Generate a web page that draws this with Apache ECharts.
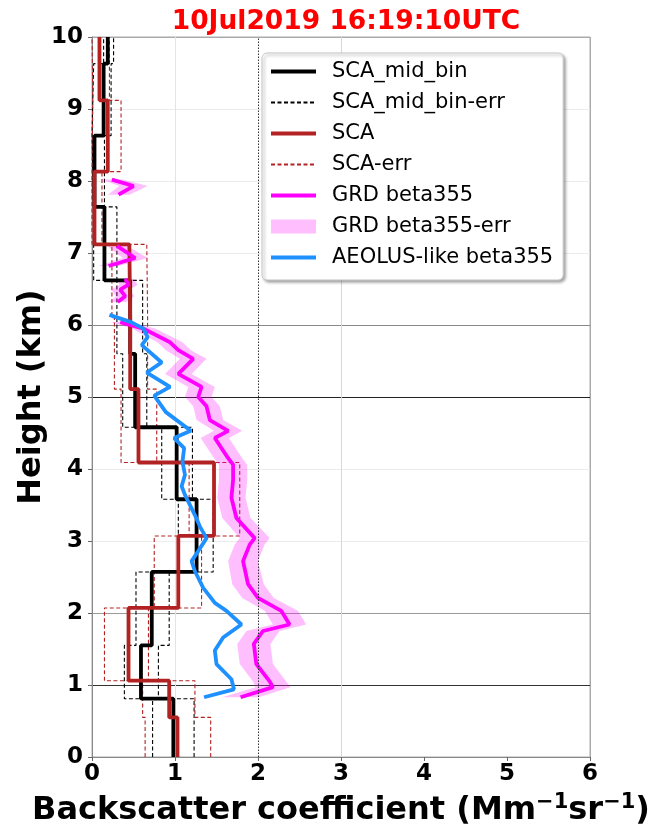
<!DOCTYPE html>
<html>
<head>
<meta charset="utf-8">
<script src="https://cdn.jsdelivr.net/npm/echarts@6/dist/echarts.min.js"></script>
<style>
html,body{margin:0;padding:0;background:#fff;}
#chart{width:659px;height:832px;}
</style>
</head>
<body>
<div id="chart"></div>
<script>
// ---------------- data ----------------
const titleText = '10Jul2019 16:19:10UTC';
const xTicks = [0, 1, 2, 3, 4, 5, 6];
const yTicks = [0, 1, 2, 3, 4, 5, 6, 7, 8, 9, 10];

// SCA_mid_bin (black step profile)
const midBinEdges = [0, 0.81, 1.55, 2.57, 3.58, 4.58, 5.6, 6.62, 7.64, 8.63, 9.63, 10];
const midBinBeta  = [0.98, 0.59, 0.72, 1.26, 1.02, 0.52, 0.46, 0.15, 0.03, 0.14, 0.19];
const midBinLow   = [0.73, 0.39, 0.53, 1.04, 0.84, 0.37, 0.30, 0.02, 0.00, 0.02, 0.14];
const midBinHigh  = [1.23, 0.80, 0.93, 1.46, 1.21, 0.66, 0.61, 0.30, 0.15, 0.23, 0.26];

// SCA (red step profile)
const scaEdges = [0, 0.55, 1.06, 2.07, 3.07, 4.09, 5.11, 6.1, 7.12, 8.13, 9.12, 10];
const scaBeta  = [1.03, 0.93, 0.44, 1.04, 1.47, 0.56, 0.46, 0.45, 0.03, 0.19, 0.09];
const scaLow   = [0.64, 0.61, 0.15, 0.75, 1.17, 0.35, 0.27, 0.24, 0.00, 0.01, 0.00];
const scaHigh  = [1.43, 1.24, 0.68, 1.32, 1.78, 0.78, 0.67, 0.66, 0.12, 0.35, 0.21];

// GRD beta355 (magenta) – several separate segments
const grd1Height = [0.83, 0.97, 1.05, 1.29, 1.57, 1.75, 1.84, 2.03, 2.21, 2.40, 2.72, 2.95, 3.04, 3.32, 3.60, 3.85, 4.06, 4.15, 4.43, 4.53, 4.68, 4.87, 5.00, 5.14, 5.32, 5.53, 5.65, 5.76, 5.95, 6.04];
const grd1Beta   = [1.79, 2.18, 2.14, 1.98, 1.95, 2.06, 2.38, 2.28, 2.00, 1.88, 1.82, 1.90, 1.96, 1.74, 1.68, 1.70, 1.70, 1.64, 1.48, 1.64, 1.42, 1.38, 1.28, 1.32, 1.04, 1.22, 1.04, 0.94, 0.62, 0.34];
const grd1Err    = [0.22, 0.21, 0.20, 0.20, 0.20, 0.20, 0.20, 0.20, 0.19, 0.19, 0.18, 0.18, 0.18, 0.17, 0.17, 0.17, 0.17, 0.17, 0.17, 0.17, 0.16, 0.16, 0.16, 0.16, 0.16, 0.16, 0.15, 0.15, 0.14, 0.12];
const grd2Height = [6.32, 6.40, 6.49, 6.56, 6.64];
const grd2Beta   = [0.31, 0.40, 0.34, 0.44, 0.40];
const grd2Err    = [0.10, 0.11, 0.11, 0.11, 0.10];
const grd3Height = [6.82, 6.93, 7.10];
const grd3Beta   = [0.20, 0.52, 0.30];
const grd3Err    = [0.12, 0.15, 0.12];
const grd4Height = [7.81, 7.93, 8.02];
const grd4Beta   = [0.32, 0.50, 0.24];
const grd4Err    = [0.13, 0.17, 0.13];

// AEOLUS-like beta355 (blue)
const aeoHeight = [0.83, 0.94, 1.08, 1.29, 1.48, 1.66, 1.84, 2.03, 2.14, 2.35, 2.58, 2.72, 2.86, 3.04, 3.20, 3.36, 3.64, 3.76, 3.92, 4.10, 4.29, 4.43, 4.53, 4.79, 5.02, 5.14, 5.34, 5.48, 5.72, 5.83, 5.95, 6.04, 6.14];
const aeoBeta   = [1.35, 1.71, 1.68, 1.50, 1.48, 1.58, 1.80, 1.62, 1.48, 1.34, 1.24, 1.20, 1.28, 1.38, 1.30, 1.24, 1.12, 1.08, 1.12, 1.09, 1.11, 0.99, 1.19, 0.89, 0.75, 0.94, 0.66, 0.84, 0.60, 0.67, 0.62, 0.47, 0.21];

// ---------------- helpers ----------------
function stepPoints(edges, vals) {
  const pts = [];
  for (let i = 0; i < vals.length; i++) {
    pts.push([vals[i], edges[i]]);
    pts.push([vals[i], edges[i + 1]]);
  }
  return pts;
}
function zipXY(xs, ys) { return xs.map((x, i) => [x, ys[i]]); }

const grdSegs = [
  {h: grd1Height, b: grd1Beta, e: grd1Err},
  {h: grd2Height, b: grd2Beta, e: grd2Err},
  {h: grd3Height, b: grd3Beta, e: grd3Err},
  {h: grd4Height, b: grd4Beta, e: grd4Err}
];

const FONT = 'DejaVu Sans';
const dashBlack = {color: '#000', width: 1.1, type: [4, 2.5]};
const dashRed = {color: '#b22222', width: 1.1, type: [4, 2.5]};
const THICK = 3.8;

function lineSeries(name, data, lineStyle, z) {
  return {type: 'line', name, data, symbol: 'none', showSymbol: false, lineStyle,
          itemStyle: {color: lineStyle.color}, z: z || 2, silent: true, animation: false, clip: true};
}

const series = [];
const s0 = lineSeries('SCA_mid_bin-err', stepPoints(midBinEdges, midBinLow), dashBlack, 2);
s0.markLine = {
  silent: true, symbol: 'none', label: {show: false}, animation: false,
  lineStyle: {color: '#333', width: 1, type: [1.5, 1.5]},
  data: [{xAxis: 2}]
};
series.push(s0);
series.push(lineSeries('SCA_mid_bin-err', stepPoints(midBinEdges, midBinHigh), dashBlack, 2));
series.push(lineSeries('SCA-err', stepPoints(scaEdges, scaLow), dashRed, 2));
series.push(lineSeries('SCA-err', stepPoints(scaEdges, scaHigh), dashRed, 2));
series.push(lineSeries('SCA_mid_bin', stepPoints(midBinEdges, midBinBeta), {color: '#000', width: THICK}, 3));
series.push(lineSeries('SCA', stepPoints(scaEdges, scaBeta), {color: '#b22222', width: THICK}, 3));
series.push({
  type: 'custom', name: 'GRD beta355-err', coordinateSystem: 'cartesian2d',
  silent: true, animation: false, z: 3,
  itemStyle: {color: 'rgba(255,0,255,0.25)'},
  data: grdSegs.map((s, i) => [s.b[0], s.h[0], i]),
  encode: {x: 0, y: 1},
  renderItem: function (params, api) {
    const s = grdSegs[params.dataIndex];
    const pts = [];
    for (let j = 0; j < s.h.length; j++) pts.push(api.coord([s.b[j] - s.e[j], s.h[j]]));
    for (let j = s.h.length - 1; j >= 0; j--) pts.push(api.coord([s.b[j] + s.e[j], s.h[j]]));
    return {type: 'polygon', shape: {points: pts}, style: {fill: 'rgba(255,0,255,0.25)', stroke: 'none'}};
  }
});
grdSegs.forEach(s => series.push(lineSeries('GRD beta355', zipXY(s.b, s.h), {color: '#ff00ff', width: THICK}, 4)));
series.push(lineSeries('AEOLUS-like beta355', zipXY(aeoBeta, aeoHeight), {color: '#1e90ff', width: THICK}, 5));

const ySplitColors = ['#bbb', '#333', '#999', '#ececec', '#ececec', '#222', '#888', '#ececec', '#ececec', '#ececec', '#aaa'];
const xSplitColors = ['#bbb', '#e4e4e4', 'rgba(0,0,0,0)', '#d8d8d8', 'rgba(0,0,0,0)', 'rgba(0,0,0,0)', '#aaa'];

const thickIcon = {width: 4};
const option = {
  animation: false,
  backgroundColor: '#fff',
  title: {
    text: titleText, left: 341, top: 4, textAlign: 'center',
    textStyle: {color: '#ff0000', fontSize: 26.5, fontWeight: 'bold', fontFamily: FONT}
  },
  grid: {left: 92, right: 69, top: 37, bottom: 72, show: true, borderColor: '#aaa', borderWidth: 1, backgroundColor: 'transparent'},
  legend: {
    orient: 'vertical', left: 262, top: 53,
    itemWidth: 45, itemHeight: 14, itemGap: 10,
    padding: [8, 10, 12, 7],
    backgroundColor: '#fff', borderColor: '#c8c8c8', borderWidth: 1, borderRadius: 5,
    shadowColor: 'rgba(0,0,0,0.35)', shadowBlur: 3, shadowOffsetX: 2, shadowOffsetY: 2,
    itemStyle: {opacity: 0},
    textStyle: {fontFamily: FONT, fontSize: 21, color: '#000', padding: [0, 0, 0, 11]},
    selectedMode: false,
    data: [
      {name: 'SCA_mid_bin', lineStyle: thickIcon},
      'SCA_mid_bin-err',
      {name: 'SCA', lineStyle: thickIcon},
      'SCA-err',
      {name: 'GRD beta355', lineStyle: thickIcon},
      {name: 'GRD beta355-err', icon: 'rect', itemStyle: {opacity: 1, color: 'rgba(255,0,255,0.25)'}},
      {name: 'AEOLUS-like beta355', lineStyle: thickIcon}
    ]
  },
  xAxis: {
    type: 'value', min: xTicks[0], max: xTicks[xTicks.length - 1], interval: 1,
    axisLine: {show: true, lineStyle: {color: '#888', width: 1}},
    axisTick: {show: true, length: 4, lineStyle: {color: '#666'}},
    axisLabel: {color: '#000', fontSize: 23, fontWeight: 'bold', fontFamily: FONT, margin: 6},
    splitLine: {show: true, lineStyle: {color: xSplitColors, width: 1}},
    name: '{a|Backscatter coefficient (Mm}{s|\u22121}{a|sr}{s|\u22121}{a|)}',
    nameLocation: 'middle', nameGap: 35, nameMoveOverlap: false,
    nameTextStyle: {
      rich: {
        a: {fontSize: 32, fontWeight: 'bold', fontFamily: FONT, color: '#000', lineHeight: 38},
        s: {fontSize: 21, fontWeight: 'bold', fontFamily: FONT, color: '#000', verticalAlign: 'top', lineHeight: 22}
      }
    }
  },
  yAxis: {
    type: 'value', min: yTicks[0], max: yTicks[yTicks.length - 1], interval: 1,
    axisLine: {show: true, lineStyle: {color: '#888', width: 1}},
    axisTick: {show: true, length: 4, lineStyle: {color: '#666'}},
    axisLabel: {color: '#000', fontSize: 23, fontWeight: 'bold', fontFamily: FONT, margin: 9},
    splitLine: {show: true, lineStyle: {color: ySplitColors, width: 1}},
    name: 'Height (km)', nameLocation: 'middle', nameGap: 44, nameMoveOverlap: false,
    nameTextStyle: {fontSize: 32, fontWeight: 'bold', fontFamily: FONT, color: '#000'}
  },
  series: series
};

const chart = echarts.init(document.getElementById('chart'), null, {renderer: 'canvas'});
chart.setOption(option);
</script>
</body>
</html>
